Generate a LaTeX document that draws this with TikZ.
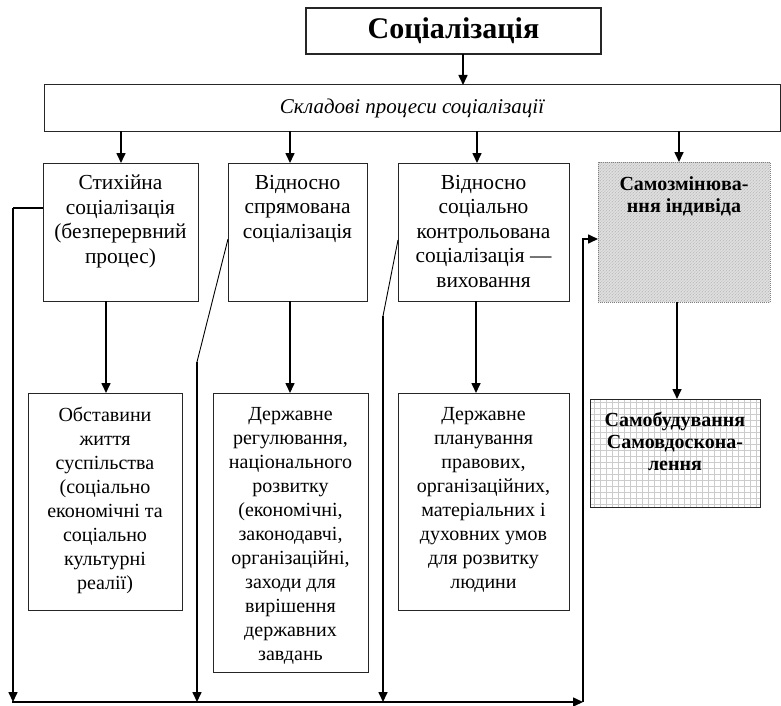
\documentclass[tikz,border=0pt]{standalone}
\usepackage{fontspec}
\setmainfont{Liberation Serif}
\usetikzlibrary{arrows.meta,patterns}
\begin{document}
\begin{tikzpicture}[x=1pt,y=-1pt,
  box/.style={draw=black!85, line width=1pt, inner sep=0pt, outer sep=0pt},
  txt/.style={anchor=north, align=center, inner sep=0pt, font=\fontsize{20}{24}\selectfont},
  toptxt/.style={anchor=north, align=center, inner sep=0pt, font=\fontsize{21.4}{24.5}\selectfont},
  btxt/.style={anchor=north, align=center, inner sep=0pt, font=\fontsize{20}{22}\selectfont\bfseries},
  arr/.style={line width=1.6pt, -{Triangle[length=10pt,width=9pt]}},
  thickline/.style={line width=1.6pt},
  thinline/.style={line width=0.9pt}]
\useasboundingbox (0,0) rectangle (781,706);

% helper coordinates for connector positions
\coordinate (xa) at (463,0);
\coordinate (xb1) at (121,0);
\coordinate (xb2) at (290,0);
\coordinate (xb3) at (477,0);
\coordinate (xb4) at (679,0);
\coordinate (xd1) at (106,0);
\coordinate (xd2) at (290,0);
\coordinate (xd3) at (476,0);
\coordinate (xd4) at (677,0);
\coordinate (base) at (0,702);
\coordinate (riser) at (583,0);
\coordinate (l1) at (13,208);
\coordinate (y2) at (0,239);
\coordinate (l2) at (197,362);
\coordinate (y3) at (0,240);
\coordinate (l3) at (383,316);
\coordinate (y4) at (0,239);

% title and the common bar
\node[box, line width=1.4pt, minimum width=295, minimum height=46,
      font=\fontsize{30}{34}\selectfont\bfseries] (t) at (453.5,31) {Соціалізація};
\node[box, minimum width=736, minimum height=46,
      font=\fontsize{21}{24}\selectfont\itshape] (bar) at (412,108) {Складові процеси соціалізації};

% upper row
\node[box, minimum width=155, minimum height=138] (b1) at (120.5,232) {};
\node[box, minimum width=139, minimum height=138] (b2) at (297.5,232) {};
\node[box, minimum width=171, minimum height=138] (b3) at (483.5,232) {};
\node[box, draw=gray, densely dotted, minimum width=172, minimum height=140,
      preaction={fill=gray!25}, pattern=north east lines, pattern color=gray!60] (b4) at (684,232) {};

% lower row
\node[box, minimum width=154, minimum height=217] (c1) at (105,501.5) {};
\node[box, minimum width=155, minimum height=279] (c2) at (290.5,532.5) {};
\node[box, minimum width=171, minimum height=217] (c3) at (483.5,501.5) {};
\node[box, fill=white, minimum width=170, minimum height=108] (c4) at (675,453) {};
\begin{scope}
  \clip (c4.north west) rectangle (c4.south east);
  \draw[gray!40, line width=0.4pt, step=6pt] ([shift={(-6pt,-6pt)}]c4.south west) grid ([shift={(6pt,6pt)}]c4.north east);
\end{scope}
\draw[black!85, line width=1pt] (c4.north west) rectangle (c4.south east);

% box texts
\node[toptxt] (b1t) at ([yshift=-12pt]b1.north) {Стихійна\\соціалізація\\(безперервний\\процес)};
\node[toptxt] (b2t) at ([yshift=-12pt]b2.north) {Відносно\\спрямована\\соціалізація};
\node[toptxt] (b3t) at ([yshift=-12pt]b3.north) {Відносно\\соціально\\контрольована\\соціалізація —\\виховання};
\node[btxt] (b4t) at ([yshift=-14pt]b4.north) {Самозмінюва-\\ння індивіда};
\node[txt] (c1t) at ([yshift=-14pt]c1.north) {Обставини\\життя\\суспільства\\(соціально\\економічні та\\соціально\\культурні\\реалії)};
\node[txt] (c2t) at ([yshift=-14pt]c2.north) {Державне\\регулювання,\\національного\\розвитку\\(економічні,\\законодавчі,\\організаційні,\\заходи для\\вирішення\\державних\\завдань};
\node[txt] (c3t) at ([yshift=-14pt]c3.north) {Державне\\планування\\правових,\\організаційних,\\матеріальних і\\духовних умов\\для розвитку\\людини};
\node[btxt] (c4t) at ([yshift=-13pt]c4.north) {Самобудування\\Самовдоскона-\\лення};

% main arrows
\draw[arr] (t.south -| xa) -- (bar.north -| xa);
\draw[arr] (bar.south -| xb1) -- (b1.north -| xb1);
\draw[arr] (bar.south -| xb2) -- (b2.north -| xb2);
\draw[arr] (bar.south -| xb3) -- (b3.north -| xb3);
\draw[arr] (bar.south -| xb4) -- (b4.north -| xb4);
\draw[arr] (b1.south -| xd1) -- (c1.north -| xd1);
\draw[arr] (b2.south -| xd2) -- (c2.north -| xd2);
\draw[arr] (b3.south -| xd3) -- (c3.north -| xd3);
\draw[arr] (b4.south -| xd4) -- (c4.north -| xd4);

% feedback loop along the bottom
\draw[thickline] (b1.west |- l1) -- (l1);
\draw[arr] (l1) -- (l1 |- base);
\draw[thinline] (b2.west |- y2) -- (l2);
\draw[arr] (l2) -- (l2 |- base);
\draw[thinline] (b3.west |- y3) -- (l3);
\draw[arr] (l3) -- (l3 |- base);
\draw[arr] ([xshift=-1pt]l1 |- base) -- (riser |- base);
\draw[arr] (riser |- base) -- (riser |- y4) -- (b4.west |- y4);
\end{tikzpicture}
\end{document}
